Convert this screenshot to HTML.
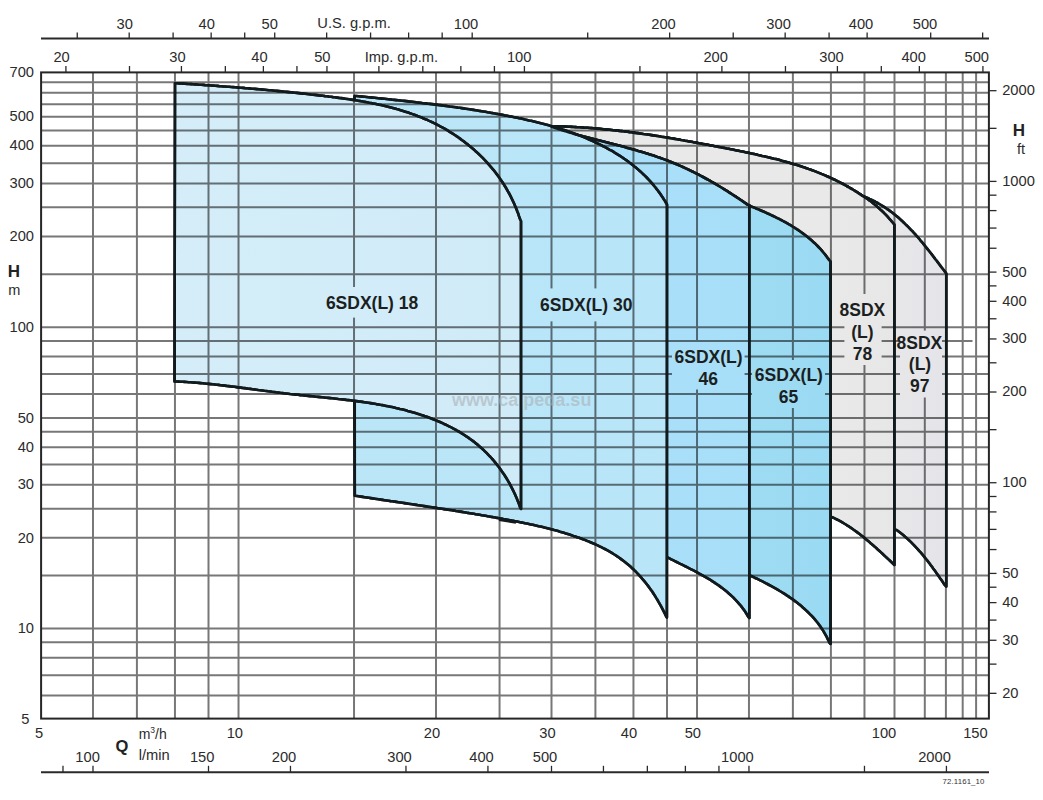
<!DOCTYPE html>
<html><head><meta charset="utf-8"><title>6SDX 8SDX performance chart</title>
<style>html,body{margin:0;padding:0;background:#fff;width:1043px;height:800px;overflow:hidden}svg{display:block;font-family:"Liberation Sans",sans-serif}</style>
</head><body><svg width="1043" height="800" viewBox="0 0 1043 800"><rect width="1043" height="800" fill="#fff"/><defs><linearGradient id="g18" x1="175" x2="521" y1="0" y2="0" gradientUnits="userSpaceOnUse"><stop offset="0" stop-color="#d4edf9"/><stop offset="1" stop-color="#d0ebf8"/></linearGradient><linearGradient id="g30" x1="354" x2="667" y1="0" y2="0" gradientUnits="userSpaceOnUse"><stop offset="0" stop-color="#bbe6f8"/><stop offset="1" stop-color="#b8e5f8"/></linearGradient><linearGradient id="g46" x1="667" x2="749" y1="0" y2="0" gradientUnits="userSpaceOnUse"><stop offset="0" stop-color="#a9dff8"/><stop offset="1" stop-color="#a8dff8"/></linearGradient><linearGradient id="g65" x1="749" x2="831" y1="0" y2="0" gradientUnits="userSpaceOnUse"><stop offset="0" stop-color="#9edcf3"/><stop offset="1" stop-color="#9adaf2"/></linearGradient><linearGradient id="g78" x1="830" x2="895" y1="0" y2="0" gradientUnits="userSpaceOnUse"><stop offset="0" stop-color="#e9e9e9"/><stop offset="1" stop-color="#e7e7e8"/></linearGradient><linearGradient id="g97" x1="895" x2="946" y1="0" y2="0" gradientUnits="userSpaceOnUse"><stop offset="0" stop-color="#e7e7ea"/><stop offset="1" stop-color="#e5e5e9"/></linearGradient><mask id="gm" maskUnits="userSpaceOnUse" x="0" y="0" width="1043" height="800"><rect x="0" y="0" width="1043" height="800" fill="#fff"/><rect x="325.0" y="287.0" width="94.0" height="30.6" fill="#000"/><rect x="540.0" y="288.4" width="92.0" height="33.0" fill="#000"/><rect x="672.0" y="342.0" width="72.6" height="47.5" fill="#000"/><rect x="752.0" y="360.0" width="73.0" height="48.0" fill="#000"/><rect x="844.4" y="294.0" width="37.2" height="71.0" fill="#000"/><rect x="900.0" y="330.6" width="42.0" height="66.9" fill="#000"/></mask></defs><path d="M551.4,126.4L553.4,126.3L555.5,126.3L557.5,126.3L559.5,126.4L561.5,126.5L563.5,126.5L565.5,126.6L567.5,126.7L569.5,126.8L571.5,126.9L573.5,127.0L575.5,127.1L577.5,127.2L579.6,127.3L581.6,127.4L583.6,127.6L585.6,127.7L587.6,127.8L589.6,128.0L591.6,128.1L593.6,128.3L595.6,128.5L597.6,128.6L599.6,128.8L601.6,129.0L603.6,129.2L605.6,129.4L607.5,129.6L609.5,129.8L611.5,130.0L613.5,130.2L615.5,130.4L617.5,130.6L619.5,130.9L621.5,131.1L623.5,131.3L625.5,131.6L627.5,131.8L629.5,132.1L631.5,132.3L633.4,132.6L635.4,132.9L637.4,133.1L639.4,133.4L641.4,133.7L643.4,134.0L645.4,134.2L647.4,134.5L649.3,134.8L651.3,135.1L653.3,135.4L655.3,135.7L657.3,136.0L659.3,136.3L661.3,136.7L663.2,137.0L665.2,137.3L667.2,137.6L669.2,137.9L671.2,138.3L673.2,138.6L675.1,138.9L677.1,139.3L679.1,139.6L681.1,140.0L683.1,140.3L685.0,140.7L687.0,141.0L689.0,141.4L691.0,141.7L693.0,142.1L694.9,142.4L696.9,142.8L698.9,143.2L700.9,143.5L702.9,143.9L704.8,144.3L706.8,144.6L708.8,145.0L710.8,145.4L712.8,145.8L714.7,146.2L716.7,146.5L718.7,146.9L720.7,147.3L722.6,147.7L724.6,148.1L726.6,148.5L728.6,148.8L730.6,149.2L732.5,149.6L734.5,150.0L736.5,150.4L738.5,150.8L740.4,151.2L742.4,151.6L744.4,152.0L746.4,152.4L748.3,152.8L750.3,153.3L752.3,153.7L754.2,154.1L756.2,154.5L758.2,155.0L760.1,155.4L762.1,155.9L764.1,156.3L766.0,156.8L768.0,157.2L769.9,157.7L771.9,158.2L773.8,158.7L775.8,159.1L777.7,159.6L779.6,160.1L781.6,160.7L783.5,161.2L785.4,161.7L787.4,162.3L789.3,162.8L791.2,163.4L793.1,163.9L795.0,164.5L797.0,165.1L798.9,165.7L800.8,166.3L802.7,166.9L804.5,167.6L806.4,168.2L808.3,168.9L810.2,169.6L812.1,170.2L813.9,170.9L815.8,171.6L817.7,172.4L819.5,173.1L821.4,173.9L823.2,174.6L825.0,175.4L826.9,176.2L828.7,177.0L830.5,177.8L832.3,178.7L834.1,179.5L836.0,180.4L837.7,181.3L839.5,182.2L841.3,183.1L843.1,184.0L844.9,185.0L846.6,186.0L848.4,187.0L850.1,188.0L851.9,189.0L853.6,190.0L855.3,191.1L857.1,192.2L858.8,193.3L860.5,194.4L862.2,195.6L863.9,196.5L863.9,196.5L865.7,197.3L867.6,198.0L869.5,198.9L871.3,199.7L873.2,200.6L875.0,201.5L876.7,202.5L878.5,203.5L880.2,204.5L881.9,205.5L883.6,206.6L885.3,207.7L886.9,208.8L888.6,209.9L890.2,211.1L891.8,212.3L893.4,213.5L894.9,214.8L896.5,216.0L898.0,217.3L899.5,218.6L901.0,220.0L902.4,221.3L903.9,222.7L905.3,224.1L906.8,225.5L908.2,226.9L909.6,228.3L911.0,229.8L912.4,231.2L913.7,232.7L915.1,234.2L916.4,235.7L917.8,237.2L919.1,238.7L920.4,240.3L921.7,241.8L923.0,243.4L924.2,244.9L925.5,246.5L926.8,248.1L928.0,249.6L929.3,251.2L930.5,252.8L931.8,254.4L933.0,256.0L934.2,257.6L935.4,259.2L936.7,260.8L937.9,262.4L939.1,264.0L940.3,265.6L941.5,267.2L942.7,268.8L943.9,270.3L945.1,271.9L946.3,273.5L946.3,586.5L944.9,585.1L943.7,583.5L942.6,581.8L941.5,580.1L940.3,578.5L939.1,576.8L938.0,575.1L936.8,573.5L935.6,571.8L934.4,570.1L933.2,568.5L932.0,566.8L930.8,565.2L929.6,563.5L928.3,561.9L927.1,560.3L925.8,558.7L924.5,557.1L923.2,555.5L921.9,553.9L920.6,552.3L919.2,550.8L917.9,549.3L916.5,547.8L915.1,546.3L913.7,544.8L912.2,543.3L910.8,541.9L909.3,540.5L907.8,539.1L906.3,537.7L904.8,536.4L903.2,535.0L901.6,533.7L900.0,532.5L898.3,531.2L896.7,530.0L830.0,505.0L551.4,470.0Z" fill="url(#g97)" stroke="#111a1d" stroke-width="2.6" stroke-linejoin="round"/><path d="M551.4,126.4L553.4,126.3L555.5,126.3L557.5,126.3L559.5,126.4L561.5,126.5L563.5,126.5L565.5,126.6L567.5,126.7L569.5,126.8L571.5,126.9L573.5,127.0L575.5,127.1L577.5,127.2L579.6,127.3L581.6,127.4L583.6,127.6L585.6,127.7L587.6,127.8L589.6,128.0L591.6,128.1L593.6,128.3L595.6,128.5L597.6,128.6L599.6,128.8L601.6,129.0L603.6,129.2L605.6,129.4L607.5,129.6L609.5,129.8L611.5,130.0L613.5,130.2L615.5,130.4L617.5,130.6L619.5,130.9L621.5,131.1L623.5,131.3L625.5,131.6L627.5,131.8L629.5,132.1L631.5,132.3L633.4,132.6L635.4,132.9L637.4,133.1L639.4,133.4L641.4,133.7L643.4,134.0L645.4,134.2L647.4,134.5L649.3,134.8L651.3,135.1L653.3,135.4L655.3,135.7L657.3,136.0L659.3,136.3L661.3,136.7L663.2,137.0L665.2,137.3L667.2,137.6L669.2,137.9L671.2,138.3L673.2,138.6L675.1,138.9L677.1,139.3L679.1,139.6L681.1,140.0L683.1,140.3L685.0,140.7L687.0,141.0L689.0,141.4L691.0,141.7L693.0,142.1L694.9,142.4L696.9,142.8L698.9,143.2L700.9,143.5L702.9,143.9L704.8,144.3L706.8,144.6L708.8,145.0L710.8,145.4L712.8,145.8L714.7,146.2L716.7,146.5L718.7,146.9L720.7,147.3L722.6,147.7L724.6,148.1L726.6,148.5L728.6,148.8L730.6,149.2L732.5,149.6L734.5,150.0L736.5,150.4L738.5,150.8L740.4,151.2L742.4,151.6L744.4,152.0L746.4,152.4L748.3,152.8L750.3,153.3L752.3,153.7L754.2,154.1L756.2,154.5L758.2,155.0L760.1,155.4L762.1,155.9L764.1,156.3L766.0,156.8L768.0,157.2L769.9,157.7L771.9,158.2L773.8,158.7L775.8,159.1L777.7,159.6L779.6,160.1L781.6,160.7L783.5,161.2L785.4,161.7L787.4,162.3L789.3,162.8L791.2,163.4L793.1,163.9L795.0,164.5L797.0,165.1L798.9,165.7L800.8,166.3L802.7,166.9L804.5,167.6L806.4,168.2L808.3,168.9L810.2,169.6L812.1,170.2L813.9,170.9L815.8,171.6L817.7,172.4L819.5,173.1L821.4,173.9L823.2,174.6L825.0,175.4L826.9,176.2L828.7,177.0L830.5,177.8L832.3,178.7L834.1,179.5L836.0,180.4L837.7,181.3L839.5,182.2L841.3,183.1L843.1,184.0L844.9,185.0L846.6,186.0L848.4,187.0L850.1,188.0L851.9,189.0L853.6,190.0L855.3,191.1L857.1,192.2L858.8,193.3L860.5,194.4L862.2,195.6L863.9,196.5L863.9,196.5L865.6,197.7L867.3,198.8L869.0,200.1L870.7,201.3L872.3,202.6L874.0,203.9L875.6,205.2L877.2,206.6L878.7,208.0L880.2,209.4L881.8,210.8L883.3,212.2L884.7,213.7L886.2,215.2L887.6,216.7L889.0,218.3L890.4,219.8L891.7,221.4L893.1,223.0L894.4,224.6L894.4,565.0L892.9,563.6L891.5,562.2L890.0,560.8L888.5,559.4L887.0,558.0L885.5,556.6L884.0,555.2L882.5,553.8L881.0,552.4L879.5,551.0L878.0,549.7L876.5,548.3L875.0,546.9L873.4,545.6L871.9,544.2L870.3,542.9L868.8,541.5L867.2,540.2L865.6,538.9L864.1,537.6L862.5,536.3L860.8,535.1L859.2,533.8L857.6,532.6L856.0,531.4L854.3,530.2L852.6,529.0L851.0,527.9L849.3,526.7L847.5,525.6L845.8,524.5L844.1,523.5L842.3,522.4L840.6,521.4L838.8,520.4L837.0,519.5L835.1,518.6L833.3,517.7L831.4,516.9L750.0,500.0L551.4,478.0Z" fill="url(#g78)" stroke="#111a1d" stroke-width="2.6" stroke-linejoin="round"/><path d="M551.4,126.4L553.3,127.3L555.1,128.0L557.0,128.6L558.9,129.2L560.8,129.8L562.7,130.4L564.6,131.0L566.5,131.6L568.5,132.2L570.4,132.8L572.3,133.3L574.2,133.9L576.1,134.4L578.1,135.0L580.0,135.5L581.9,136.0L583.9,136.6L585.8,137.1L587.7,137.6L589.7,138.1L591.6,138.6L593.6,139.1L595.5,139.6L597.4,140.1L599.4,140.6L601.3,141.1L603.3,141.6L605.2,142.1L607.2,142.6L609.1,143.1L611.1,143.6L613.0,144.1L614.9,144.6L616.9,145.1L618.8,145.6L620.8,146.1L622.7,146.6L624.7,147.1L626.6,147.7L628.5,148.2L630.5,148.7L632.4,149.3L634.3,149.8L636.3,150.3L638.2,150.9L640.1,151.4L642.0,152.0L643.9,152.6L645.9,153.2L647.8,153.8L649.7,154.4L651.6,155.0L653.5,155.6L655.4,156.2L657.3,156.9L659.2,157.5L661.0,158.2L662.9,158.9L664.8,159.6L666.7,160.3L668.5,161.0L670.4,161.7L672.2,162.5L674.1,163.2L675.9,164.0L677.8,164.8L679.6,165.6L681.5,166.4L683.3,167.2L685.1,168.1L686.9,168.9L688.7,169.8L690.5,170.6L692.3,171.5L694.1,172.4L695.9,173.3L697.7,174.2L699.5,175.2L701.3,176.1L703.0,177.0L704.8,178.0L706.6,179.0L708.3,179.9L710.1,180.9L711.8,181.9L713.6,182.9L715.3,183.9L717.0,184.9L718.8,186.0L720.5,187.0L722.2,188.0L723.9,189.1L725.6,190.2L727.3,191.2L729.0,192.3L730.7,193.4L732.4,194.5L734.1,195.6L735.8,196.7L737.5,197.8L739.1,198.9L740.8,200.0L742.5,201.1L744.1,202.3L745.8,203.4L747.4,204.6L749.3,205.3L749.4,205.5L751.2,206.4L753.0,207.1L754.9,207.9L756.7,208.7L758.6,209.4L760.4,210.2L762.2,211.0L764.1,211.8L765.9,212.6L767.7,213.5L769.6,214.3L771.4,215.2L773.2,216.0L775.0,216.9L776.8,217.8L778.6,218.7L780.4,219.6L782.2,220.5L783.9,221.5L785.7,222.4L787.4,223.4L789.1,224.4L790.9,225.4L792.6,226.5L794.3,227.5L795.9,228.6L797.6,229.7L799.3,230.8L800.9,232.0L802.5,233.1L804.1,234.3L805.7,235.5L807.3,236.7L808.8,238.0L810.3,239.3L811.8,240.6L813.3,241.9L814.8,243.2L816.2,244.6L817.6,246.0L819.0,247.5L820.4,248.9L821.7,250.4L823.0,252.0L824.3,253.5L825.6,255.1L826.8,256.7L828.0,258.4L829.2,260.0L830.5,261.5L830.5,644.0L829.3,642.5L828.5,640.6L827.6,638.8L826.7,636.9L825.7,635.1L824.7,633.4L823.7,631.6L822.6,629.9L821.5,628.2L820.4,626.6L819.2,624.9L818.0,623.3L816.8,621.8L815.5,620.2L814.2,618.7L812.9,617.2L811.5,615.7L810.1,614.3L808.7,612.9L807.3,611.5L805.8,610.1L804.3,608.7L802.8,607.4L801.3,606.1L799.8,604.8L798.2,603.6L796.6,602.3L795.0,601.1L793.4,599.9L791.7,598.7L790.0,597.6L788.4,596.4L786.7,595.3L785.0,594.2L783.3,593.1L781.5,592.0L779.8,591.0L778.0,589.9L776.3,588.9L774.5,587.9L772.7,586.9L770.9,585.9L769.2,585.0L767.4,584.0L765.6,583.1L763.8,582.1L762.0,581.2L760.2,580.3L758.4,579.4L756.5,578.5L754.7,577.7L752.9,576.8L751.1,576.0L749.3,575.1L700.0,556.0L667.0,544.0L551.4,508.0Z" fill="url(#g65)" stroke="#111a1d" stroke-width="2.6" stroke-linejoin="round"/><path d="M551.4,126.4L553.3,127.3L555.1,128.0L557.0,128.6L558.9,129.2L560.8,129.8L562.7,130.4L564.6,131.0L566.5,131.6L568.5,132.2L570.4,132.8L572.3,133.3L574.2,133.9L576.1,134.4L578.1,135.0L580.0,135.5L581.9,136.0L583.9,136.6L585.8,137.1L587.7,137.6L589.7,138.1L591.6,138.6L593.6,139.1L595.5,139.6L597.4,140.1L599.4,140.6L601.3,141.1L603.3,141.6L605.2,142.1L607.2,142.6L609.1,143.1L611.1,143.6L613.0,144.1L614.9,144.6L616.9,145.1L618.8,145.6L620.8,146.1L622.7,146.6L624.7,147.1L626.6,147.7L628.5,148.2L630.5,148.7L632.4,149.3L634.3,149.8L636.3,150.3L638.2,150.9L640.1,151.4L642.0,152.0L643.9,152.6L645.9,153.2L647.8,153.8L649.7,154.4L651.6,155.0L653.5,155.6L655.4,156.2L657.3,156.9L659.2,157.5L661.0,158.2L662.9,158.9L664.8,159.6L666.7,160.3L668.5,161.0L670.4,161.7L672.2,162.5L674.1,163.2L675.9,164.0L677.8,164.8L679.6,165.6L681.5,166.4L683.3,167.2L685.1,168.1L686.9,168.9L688.7,169.8L690.5,170.6L692.3,171.5L694.1,172.4L695.9,173.3L697.7,174.2L699.5,175.2L701.3,176.1L703.0,177.0L704.8,178.0L706.6,179.0L708.3,179.9L710.1,180.9L711.8,181.9L713.6,182.9L715.3,183.9L717.0,184.9L718.8,186.0L720.5,187.0L722.2,188.0L723.9,189.1L725.6,190.2L727.3,191.2L729.0,192.3L730.7,193.4L732.4,194.5L734.1,195.6L735.8,196.7L737.5,197.8L739.1,198.9L740.8,200.0L742.5,201.1L744.1,202.3L745.8,203.4L747.4,204.6L749.3,205.3L749.4,618.0L748.1,616.6L747.1,614.8L746.0,613.0L744.9,611.3L743.7,609.6L742.5,608.0L741.3,606.4L740.0,604.8L738.7,603.3L737.4,601.8L736.0,600.3L734.6,598.9L733.2,597.4L731.8,596.1L730.3,594.7L728.8,593.4L727.2,592.0L725.7,590.8L724.1,589.5L722.5,588.3L720.9,587.1L719.3,585.9L717.6,584.7L715.9,583.6L714.2,582.4L712.5,581.3L710.8,580.2L709.1,579.2L707.3,578.1L705.6,577.1L703.8,576.1L702.0,575.1L700.2,574.1L698.4,573.1L696.6,572.1L694.8,571.1L693.0,570.2L691.2,569.3L689.3,568.3L687.5,567.4L685.7,566.5L683.9,565.6L682.1,564.7L680.2,563.8L678.4,562.9L676.6,562.0L674.8,561.1L673.0,560.2L671.2,559.3L669.5,558.4L667.6,557.5L620.0,537.0L551.4,515.0Z" fill="url(#g46)" stroke="#111a1d" stroke-width="2.6" stroke-linejoin="round"/><path d="M354.5,96.0L356.6,96.0L358.6,96.2L360.6,96.4L362.6,96.6L364.6,96.8L366.6,97.0L368.6,97.2L370.6,97.4L372.6,97.6L374.6,97.8L376.5,98.0L378.5,98.2L380.5,98.4L382.5,98.6L384.5,98.8L386.5,99.0L388.5,99.2L390.5,99.4L392.4,99.7L394.4,99.9L396.4,100.1L398.4,100.3L400.4,100.5L402.4,100.7L404.3,100.9L406.3,101.1L408.3,101.4L410.3,101.6L412.3,101.8L414.2,102.0L416.2,102.3L418.2,102.5L420.2,102.7L422.2,103.0L424.1,103.2L426.1,103.4L428.1,103.7L430.1,103.9L432.1,104.1L434.0,104.4L436.0,104.6L438.0,104.9L440.0,105.1L442.0,105.4L443.9,105.7L445.9,105.9L447.9,106.2L449.9,106.5L451.9,106.7L453.8,107.0L455.8,107.3L457.8,107.6L459.8,107.8L461.8,108.1L463.7,108.4L465.7,108.7L467.7,109.0L469.7,109.3L471.6,109.6L473.6,109.9L475.6,110.2L477.6,110.5L479.6,110.9L481.6,111.2L483.5,111.5L485.5,111.8L487.5,112.2L489.5,112.5L491.5,112.9L493.4,113.2L495.4,113.6L497.4,113.9L499.4,114.3L501.4,114.6L503.4,115.0L505.3,115.4L507.3,115.8L509.3,116.2L511.3,116.6L513.3,117.0L515.3,117.4L517.3,117.8L519.2,118.2L521.2,118.6L523.2,119.0L525.2,119.5L527.1,119.9L529.1,120.4L531.1,120.8L533.1,121.3L535.0,121.8L537.0,122.3L538.9,122.8L540.9,123.3L542.9,123.8L544.8,124.3L546.8,124.8L548.7,125.3L550.7,125.9L552.6,126.5L554.5,127.0L556.5,127.6L558.4,128.2L560.3,128.8L562.2,129.4L564.1,130.0L566.0,130.6L567.9,131.3L569.8,131.9L571.7,132.6L573.6,133.3L575.5,134.0L577.4,134.7L579.2,135.4L581.1,136.1L582.9,136.9L584.8,137.6L586.6,138.4L588.5,139.2L590.3,140.0L592.1,140.8L593.9,141.6L595.7,142.5L597.5,143.3L599.3,144.2L601.1,145.1L602.8,146.0L604.6,146.9L606.4,147.8L608.1,148.8L609.8,149.8L611.6,150.7L613.3,151.7L615.0,152.8L616.7,153.8L618.3,154.8L620.0,155.9L621.7,157.0L623.3,158.1L624.9,159.2L626.6,160.4L628.2,161.5L629.7,162.7L631.3,163.9L632.9,165.1L634.4,166.4L635.9,167.6L637.5,168.9L638.9,170.2L640.4,171.5L641.9,172.9L643.3,174.2L644.8,175.6L646.2,177.0L647.6,178.5L648.9,179.9L650.3,181.4L651.6,182.9L652.9,184.4L654.2,186.0L655.5,187.5L656.7,189.1L658.0,190.7L659.2,192.4L660.4,194.0L661.5,195.7L662.7,197.4L663.8,199.2L664.9,200.9L665.9,202.7L667.0,204.5L667.0,206.5L666.9,617.5L665.9,615.8L665.0,614.0L664.1,612.2L663.2,610.4L662.3,608.6L661.4,606.9L660.4,605.1L659.4,603.3L658.4,601.6L657.4,599.8L656.3,598.1L655.3,596.4L654.2,594.7L653.1,593.0L652.0,591.3L650.8,589.7L649.6,588.0L648.4,586.4L647.2,584.8L646.0,583.2L644.7,581.6L643.4,580.1L642.1,578.6L640.8,577.0L639.5,575.6L638.1,574.1L636.7,572.7L635.3,571.2L633.9,569.8L632.4,568.5L631.0,567.1L629.5,565.8L628.0,564.5L626.4,563.2L624.9,562.0L623.3,560.8L621.7,559.6L620.1,558.4L618.5,557.3L616.8,556.1L615.2,555.0L613.5,554.0L611.8,552.9L610.1,551.9L608.4,550.9L606.6,549.9L604.9,549.0L603.1,548.1L601.3,547.2L599.5,546.3L597.7,545.4L595.9,544.6L594.1,543.8L592.2,543.0L590.4,542.2L588.5,541.4L586.7,540.7L584.8,539.9L582.9,539.2L581.0,538.5L579.1,537.8L577.2,537.2L575.3,536.5L573.4,535.9L571.5,535.2L569.6,534.6L567.7,534.0L565.8,533.4L563.9,532.8L561.9,532.2L560.0,531.7L558.1,531.1L556.1,530.6L554.2,530.1L552.3,529.5L550.3,529.0L548.4,528.5L546.4,528.0L544.5,527.6L542.6,527.1L540.6,526.6L538.7,526.2L536.7,525.7L534.8,525.3L532.8,524.8L530.8,524.4L528.9,524.0L526.9,523.6L525.0,523.2L523.0,522.7L521.1,522.4L519.1,522.0L517.1,521.6L515.2,521.2L513.2,520.8L511.2,520.4L509.3,520.1L507.3,519.7L505.3,519.3L503.4,519.0L501.4,518.6L499.4,518.3L497.5,517.9L495.5,517.6L493.5,517.2L491.5,516.9L489.6,516.5L487.6,516.2L485.6,515.8L483.6,515.5L481.7,515.2L479.7,514.8L477.7,514.5L475.7,514.2L473.8,513.8L471.8,513.5L469.8,513.2L467.8,512.9L465.8,512.5L463.9,512.2L461.9,511.9L459.9,511.6L457.9,511.3L455.9,511.0L454.0,510.6L452.0,510.3L450.0,510.0L448.0,509.7L446.0,509.4L444.1,509.1L442.1,508.8L440.1,508.5L438.1,508.2L436.1,507.9L434.1,507.6L432.2,507.3L430.2,507.0L428.2,506.7L426.2,506.4L424.2,506.1L422.2,505.8L420.3,505.5L418.3,505.2L416.3,504.9L414.3,504.6L412.3,504.3L410.3,504.0L408.3,503.7L406.4,503.4L404.4,503.1L402.4,502.8L400.4,502.5L398.4,502.2L396.4,501.9L394.5,501.6L392.5,501.3L390.5,501.1L388.5,500.8L386.5,500.5L384.5,500.2L382.6,499.9L380.6,499.6L378.6,499.3L376.6,499.0L374.6,498.7L372.6,498.4L370.7,498.1L368.7,497.8L366.7,497.5L364.7,497.2L362.7,496.9L360.8,496.6L358.8,496.3L356.8,496.0L354.8,495.8Z" fill="url(#g30)" stroke="#111a1d" stroke-width="2.6" stroke-linejoin="round"/><path d="M175.0,83.3L177.0,83.2L179.1,83.4L181.1,83.5L183.1,83.6L185.1,83.7L187.1,83.9L189.1,84.0L191.1,84.1L193.2,84.3L195.2,84.4L197.2,84.5L199.2,84.7L201.2,84.8L203.2,84.9L205.2,85.1L207.2,85.2L209.2,85.3L211.2,85.5L213.2,85.6L215.2,85.8L217.2,85.9L219.2,86.1L221.2,86.2L223.2,86.4L225.2,86.5L227.2,86.7L229.2,86.8L231.2,87.0L233.1,87.1L235.1,87.3L237.1,87.4L239.1,87.6L241.1,87.7L243.1,87.9L245.1,88.1L247.1,88.2L249.1,88.4L251.1,88.6L253.1,88.7L255.1,88.9L257.1,89.1L259.0,89.3L261.0,89.4L263.0,89.6L265.0,89.8L267.0,90.0L269.0,90.2L271.0,90.3L273.0,90.5L275.0,90.7L277.0,90.9L279.0,91.1L281.0,91.3L283.0,91.5L285.0,91.7L287.0,91.9L289.0,92.1L291.0,92.3L293.0,92.5L294.9,92.7L296.9,92.9L298.9,93.1L301.0,93.4L303.0,93.6L305.0,93.8L307.0,94.0L309.0,94.2L311.0,94.5L313.0,94.7L315.0,94.9L317.0,95.1L319.0,95.4L321.0,95.6L323.0,95.8L325.0,96.1L327.1,96.3L329.1,96.6L331.1,96.8L333.1,97.1L335.1,97.3L337.1,97.6L339.1,97.9L341.2,98.1L343.2,98.4L345.2,98.7L347.2,99.0L349.2,99.3L351.2,99.6L353.2,99.9L355.2,100.2L357.2,100.5L359.2,100.9L361.2,101.2L363.2,101.6L365.2,101.9L367.2,102.3L369.2,102.7L371.2,103.0L373.2,103.4L375.2,103.8L377.1,104.3L379.1,104.7L381.1,105.1L383.0,105.6L385.0,106.0L387.0,106.5L388.9,107.0L390.9,107.5L392.8,108.0L394.7,108.5L396.7,109.1L398.6,109.6L400.5,110.2L402.4,110.8L404.4,111.4L406.3,112.0L408.2,112.6L410.0,113.2L411.9,113.9L413.8,114.6L415.7,115.2L417.5,116.0L419.4,116.7L421.3,117.4L423.1,118.2L424.9,119.0L426.8,119.7L428.6,120.6L430.4,121.4L432.2,122.2L434.0,123.1L435.8,124.0L437.6,124.9L439.3,125.8L441.1,126.8L442.8,127.7L444.6,128.7L446.3,129.7L448.0,130.7L449.7,131.8L451.4,132.8L453.1,133.9L454.8,135.0L456.4,136.1L458.1,137.2L459.7,138.4L461.3,139.6L462.9,140.7L464.5,141.9L466.1,143.2L467.7,144.4L469.2,145.7L470.8,146.9L472.3,148.2L473.8,149.5L475.3,150.9L476.8,152.2L478.2,153.6L479.7,154.9L481.1,156.3L482.5,157.7L483.9,159.2L485.3,160.6L486.7,162.1L488.0,163.6L489.3,165.1L490.6,166.6L491.9,168.1L493.2,169.7L494.5,171.2L495.7,172.8L496.9,174.4L498.1,176.0L499.3,177.6L500.4,179.3L501.6,181.0L502.7,182.6L503.8,184.3L504.8,186.0L505.9,187.8L506.9,189.5L507.9,191.3L508.9,193.0L509.9,194.8L510.8,196.6L511.7,198.5L512.6,200.3L513.5,202.2L514.3,204.0L515.1,205.9L515.9,207.8L516.7,209.7L517.4,211.7L518.2,213.6L518.8,215.6L519.5,217.6L520.2,219.5L521.0,221.0L521.0,509.0L520.1,507.3L519.5,505.4L518.8,503.5L518.0,501.6L517.3,499.7L516.5,497.8L515.7,495.9L514.9,494.1L514.0,492.2L513.1,490.4L512.2,488.6L511.3,486.8L510.3,485.0L509.4,483.2L508.3,481.4L507.3,479.7L506.3,478.0L505.2,476.2L504.1,474.5L503.0,472.9L501.8,471.2L500.6,469.5L499.5,467.9L498.2,466.3L497.0,464.7L495.7,463.1L494.5,461.6L493.2,460.0L491.8,458.5L490.5,457.0L489.1,455.6L487.7,454.1L486.3,452.7L484.9,451.3L483.5,449.9L482.0,448.6L480.5,447.2L479.0,445.9L477.5,444.6L475.9,443.4L474.4,442.1L472.8,440.9L471.2,439.7L469.6,438.6L468.0,437.4L466.3,436.3L464.6,435.2L463.0,434.1L461.3,433.1L459.6,432.0L457.8,431.0L456.1,430.0L454.4,429.1L452.6,428.1L450.8,427.2L449.0,426.3L447.2,425.4L445.4,424.5L443.6,423.7L441.8,422.8L440.0,422.0L438.1,421.2L436.3,420.4L434.4,419.7L432.5,419.0L430.7,418.2L428.8,417.5L426.9,416.8L425.0,416.2L423.1,415.5L421.2,414.9L419.3,414.3L417.4,413.7L415.4,413.1L413.5,412.5L411.6,411.9L409.7,411.4L407.7,410.9L405.8,410.3L403.8,409.8L401.9,409.3L399.9,408.9L398.0,408.4L396.0,408.0L394.1,407.5L392.1,407.1L390.2,406.7L388.2,406.3L386.2,405.9L384.2,405.5L382.3,405.1L380.3,404.8L378.3,404.4L376.3,404.1L374.4,403.7L372.4,403.4L370.4,403.1L368.4,402.8L366.4,402.5L364.4,402.2L362.4,401.9L360.4,401.6L358.4,401.4L356.4,401.1L354.4,400.8L352.4,400.6L350.4,400.3L348.4,400.1L346.4,399.9L344.4,399.6L342.4,399.4L340.4,399.2L338.4,399.0L336.3,398.7L334.3,398.5L332.3,398.3L330.3,398.1L328.3,397.9L326.3,397.7L324.3,397.5L322.3,397.3L320.2,397.1L318.2,396.9L316.2,396.7L314.2,396.5L312.2,396.3L310.2,396.1L308.2,395.9L306.2,395.7L304.2,395.5L302.2,395.3L300.2,395.1L298.2,394.8L296.2,394.6L294.1,394.4L292.1,394.2L290.1,394.0L288.2,393.7L286.2,393.5L284.2,393.3L282.2,393.0L280.2,392.8L278.2,392.5L276.2,392.3L274.2,392.0L272.2,391.8L270.2,391.5L268.2,391.3L266.3,391.0L264.3,390.8L262.3,390.5L260.3,390.2L258.3,390.0L256.3,389.7L254.4,389.4L252.4,389.2L250.4,388.9L248.4,388.7L246.4,388.4L244.4,388.1L242.5,387.9L240.5,387.6L238.5,387.4L236.5,387.1L234.5,386.8L232.5,386.6L230.6,386.4L228.6,386.1L226.6,385.9L224.6,385.6L222.6,385.4L220.6,385.2L218.6,384.9L216.7,384.7L214.7,384.5L212.7,384.3L210.7,384.1L208.7,383.9L206.7,383.7L204.7,383.5L202.7,383.3L200.7,383.1L198.7,382.9L196.7,382.8L194.7,382.6L192.7,382.5L190.6,382.3L188.6,382.2L186.6,382.0L184.6,381.9L182.6,381.8L180.6,381.7L178.5,381.6L176.5,381.5L174.5,381.5Z" fill="url(#g18)" stroke="#111a1d" stroke-width="2.6" stroke-linejoin="round"/><g mask="url(#gm)" opacity="0.53" stroke="#000" stroke-width="2"><line x1="41.1" y1="695.41" x2="988.9" y2="695.41"/><line x1="41.1" y1="675.24" x2="988.9" y2="675.24"/><line x1="41.1" y1="657.76" x2="988.9" y2="657.76"/><line x1="41.1" y1="642.35" x2="988.9" y2="642.35"/><line x1="41.1" y1="628.56" x2="988.9" y2="628.56"/><line x1="41.1" y1="575.50" x2="988.9" y2="575.50"/><line x1="41.1" y1="537.85" x2="988.9" y2="537.85"/><line x1="41.1" y1="508.65" x2="988.9" y2="508.65"/><line x1="41.1" y1="484.79" x2="988.9" y2="484.79"/><line x1="41.1" y1="464.62" x2="988.9" y2="464.62"/><line x1="41.1" y1="447.15" x2="988.9" y2="447.15"/><line x1="41.1" y1="431.73" x2="988.9" y2="431.73"/><line x1="41.1" y1="417.95" x2="988.9" y2="417.95"/><line x1="41.1" y1="394.09" x2="988.9" y2="394.09"/><line x1="41.1" y1="373.92" x2="988.9" y2="373.92"/><line x1="41.1" y1="356.44" x2="988.9" y2="356.44"/><line x1="41.1" y1="341.03" x2="972.5" y2="341.03"/><line x1="41.1" y1="327.24" x2="988.9" y2="327.24"/><line x1="41.1" y1="274.18" x2="988.9" y2="274.18"/><line x1="41.1" y1="236.53" x2="988.9" y2="236.53"/><line x1="41.1" y1="207.33" x2="988.9" y2="207.33"/><line x1="41.1" y1="183.47" x2="988.9" y2="183.47"/><line x1="41.1" y1="163.30" x2="988.9" y2="163.30"/><line x1="41.1" y1="145.83" x2="988.9" y2="145.83"/><line x1="41.1" y1="130.41" x2="988.9" y2="130.41"/><line x1="41.1" y1="116.63" x2="988.9" y2="116.63"/><line x1="41.1" y1="104.15" x2="988.9" y2="104.15"/><line x1="41.1" y1="92.77" x2="988.9" y2="92.77"/><line x1="41.1" y1="82.29" x2="988.9" y2="82.29"/><line x1="92.99" y1="72.4" x2="92.99" y2="718.6"/><line x1="136.91" y1="72.4" x2="136.91" y2="718.6"/><line x1="174.95" y1="72.4" x2="174.95" y2="718.6"/><line x1="208.50" y1="72.4" x2="208.50" y2="718.6"/><line x1="238.52" y1="72.4" x2="238.52" y2="718.6"/><line x1="354.03" y1="72.4" x2="354.03" y2="718.6"/><line x1="435.99" y1="72.4" x2="435.99" y2="718.6"/><line x1="499.56" y1="72.4" x2="499.56" y2="718.6"/><line x1="551.50" y1="72.4" x2="551.50" y2="718.6"/><line x1="595.41" y1="72.4" x2="595.41" y2="718.6"/><line x1="633.45" y1="72.4" x2="633.45" y2="718.6"/><line x1="667.01" y1="72.4" x2="667.01" y2="718.6"/><line x1="697.02" y1="72.4" x2="697.02" y2="718.6"/><line x1="748.96" y1="72.4" x2="748.96" y2="718.6"/><line x1="792.88" y1="72.4" x2="792.88" y2="718.6"/><line x1="830.92" y1="72.4" x2="830.92" y2="718.6"/><line x1="864.47" y1="72.4" x2="864.47" y2="718.6"/><line x1="894.49" y1="72.4" x2="894.49" y2="718.6"/><line x1="924.80" y1="72.4" x2="924.80" y2="718.6"/><line x1="945.90" y1="72.4" x2="945.90" y2="718.6"/><line x1="962.70" y1="72.4" x2="962.70" y2="718.6"/><line x1="976.10" y1="72.4" x2="976.10" y2="718.6"/></g><text x="521.7" y="406" font-family="Liberation Sans, sans-serif" font-size="18" font-weight="bold" text-anchor="middle" fill="#aab1b5" fill-opacity="0.6">www.calpeda.su</text><g fill="none" stroke="#111a1d" stroke-width="2.6" stroke-linejoin="round"><path d="M175.0,83.3L177.0,83.2L179.1,83.4L181.1,83.5L183.1,83.6L185.1,83.7L187.1,83.9L189.1,84.0L191.1,84.1L193.2,84.3L195.2,84.4L197.2,84.5L199.2,84.7L201.2,84.8L203.2,84.9L205.2,85.1L207.2,85.2L209.2,85.3L211.2,85.5L213.2,85.6L215.2,85.8L217.2,85.9L219.2,86.1L221.2,86.2L223.2,86.4L225.2,86.5L227.2,86.7L229.2,86.8L231.2,87.0L233.1,87.1L235.1,87.3L237.1,87.4L239.1,87.6L241.1,87.7L243.1,87.9L245.1,88.1L247.1,88.2L249.1,88.4L251.1,88.6L253.1,88.7L255.1,88.9L257.1,89.1L259.0,89.3L261.0,89.4L263.0,89.6L265.0,89.8L267.0,90.0L269.0,90.2L271.0,90.3L273.0,90.5L275.0,90.7L277.0,90.9L279.0,91.1L281.0,91.3L283.0,91.5L285.0,91.7L287.0,91.9L289.0,92.1L291.0,92.3L293.0,92.5L294.9,92.7L296.9,92.9L298.9,93.1L301.0,93.4L303.0,93.6L305.0,93.8L307.0,94.0L309.0,94.2L311.0,94.5L313.0,94.7L315.0,94.9L317.0,95.1L319.0,95.4L321.0,95.6L323.0,95.8L325.0,96.1L327.1,96.3L329.1,96.6L331.1,96.8L333.1,97.1L335.1,97.3L337.1,97.6L339.1,97.9L341.2,98.1L343.2,98.4L345.2,98.7L347.2,99.0L349.2,99.3L351.2,99.6L353.2,99.9L355.2,100.2L357.2,100.5L359.2,100.9L361.2,101.2L363.2,101.6L365.2,101.9L367.2,102.3L369.2,102.7L371.2,103.0L373.2,103.4L375.2,103.8L377.1,104.3L379.1,104.7L381.1,105.1L383.0,105.6L385.0,106.0L387.0,106.5L388.9,107.0L390.9,107.5L392.8,108.0L394.7,108.5L396.7,109.1L398.6,109.6L400.5,110.2L402.4,110.8L404.4,111.4L406.3,112.0L408.2,112.6L410.0,113.2L411.9,113.9L413.8,114.6L415.7,115.2L417.5,116.0L419.4,116.7L421.3,117.4L423.1,118.2L424.9,119.0L426.8,119.7L428.6,120.6L430.4,121.4L432.2,122.2L434.0,123.1L435.8,124.0L437.6,124.9L439.3,125.8L441.1,126.8L442.8,127.7L444.6,128.7L446.3,129.7L448.0,130.7L449.7,131.8L451.4,132.8L453.1,133.9L454.8,135.0L456.4,136.1L458.1,137.2L459.7,138.4L461.3,139.6L462.9,140.7L464.5,141.9L466.1,143.2L467.7,144.4L469.2,145.7L470.8,146.9L472.3,148.2L473.8,149.5L475.3,150.9L476.8,152.2L478.2,153.6L479.7,154.9L481.1,156.3L482.5,157.7L483.9,159.2L485.3,160.6L486.7,162.1L488.0,163.6L489.3,165.1L490.6,166.6L491.9,168.1L493.2,169.7L494.5,171.2L495.7,172.8L496.9,174.4L498.1,176.0L499.3,177.6L500.4,179.3L501.6,181.0L502.7,182.6L503.8,184.3L504.8,186.0L505.9,187.8L506.9,189.5L507.9,191.3L508.9,193.0L509.9,194.8L510.8,196.6L511.7,198.5L512.6,200.3L513.5,202.2L514.3,204.0L515.1,205.9L515.9,207.8L516.7,209.7L517.4,211.7L518.2,213.6L518.8,215.6L519.5,217.6L520.2,219.5L521.0,221.0L521.0,509.0L520.1,507.3L519.5,505.4L518.8,503.5L518.0,501.6L517.3,499.7L516.5,497.8L515.7,495.9L514.9,494.1L514.0,492.2L513.1,490.4L512.2,488.6L511.3,486.8L510.3,485.0L509.4,483.2L508.3,481.4L507.3,479.7L506.3,478.0L505.2,476.2L504.1,474.5L503.0,472.9L501.8,471.2L500.6,469.5L499.5,467.9L498.2,466.3L497.0,464.7L495.7,463.1L494.5,461.6L493.2,460.0L491.8,458.5L490.5,457.0L489.1,455.6L487.7,454.1L486.3,452.7L484.9,451.3L483.5,449.9L482.0,448.6L480.5,447.2L479.0,445.9L477.5,444.6L475.9,443.4L474.4,442.1L472.8,440.9L471.2,439.7L469.6,438.6L468.0,437.4L466.3,436.3L464.6,435.2L463.0,434.1L461.3,433.1L459.6,432.0L457.8,431.0L456.1,430.0L454.4,429.1L452.6,428.1L450.8,427.2L449.0,426.3L447.2,425.4L445.4,424.5L443.6,423.7L441.8,422.8L440.0,422.0L438.1,421.2L436.3,420.4L434.4,419.7L432.5,419.0L430.7,418.2L428.8,417.5L426.9,416.8L425.0,416.2L423.1,415.5L421.2,414.9L419.3,414.3L417.4,413.7L415.4,413.1L413.5,412.5L411.6,411.9L409.7,411.4L407.7,410.9L405.8,410.3L403.8,409.8L401.9,409.3L399.9,408.9L398.0,408.4L396.0,408.0L394.1,407.5L392.1,407.1L390.2,406.7L388.2,406.3L386.2,405.9L384.2,405.5L382.3,405.1L380.3,404.8L378.3,404.4L376.3,404.1L374.4,403.7L372.4,403.4L370.4,403.1L368.4,402.8L366.4,402.5L364.4,402.2L362.4,401.9L360.4,401.6L358.4,401.4L356.4,401.1L354.4,400.8L352.4,400.6L350.4,400.3L348.4,400.1L346.4,399.9L344.4,399.6L342.4,399.4L340.4,399.2L338.4,399.0L336.3,398.7L334.3,398.5L332.3,398.3L330.3,398.1L328.3,397.9L326.3,397.7L324.3,397.5L322.3,397.3L320.2,397.1L318.2,396.9L316.2,396.7L314.2,396.5L312.2,396.3L310.2,396.1L308.2,395.9L306.2,395.7L304.2,395.5L302.2,395.3L300.2,395.1L298.2,394.8L296.2,394.6L294.1,394.4L292.1,394.2L290.1,394.0L288.2,393.7L286.2,393.5L284.2,393.3L282.2,393.0L280.2,392.8L278.2,392.5L276.2,392.3L274.2,392.0L272.2,391.8L270.2,391.5L268.2,391.3L266.3,391.0L264.3,390.8L262.3,390.5L260.3,390.2L258.3,390.0L256.3,389.7L254.4,389.4L252.4,389.2L250.4,388.9L248.4,388.7L246.4,388.4L244.4,388.1L242.5,387.9L240.5,387.6L238.5,387.4L236.5,387.1L234.5,386.8L232.5,386.6L230.6,386.4L228.6,386.1L226.6,385.9L224.6,385.6L222.6,385.4L220.6,385.2L218.6,384.9L216.7,384.7L214.7,384.5L212.7,384.3L210.7,384.1L208.7,383.9L206.7,383.7L204.7,383.5L202.7,383.3L200.7,383.1L198.7,382.9L196.7,382.8L194.7,382.6L192.7,382.5L190.6,382.3L188.6,382.2L186.6,382.0L184.6,381.9L182.6,381.8L180.6,381.7L178.5,381.6L176.5,381.5L174.5,381.5Z"/><path d="M354.5,96.0L356.6,96.0L358.6,96.2L360.6,96.4L362.6,96.6L364.6,96.8L366.6,97.0L368.6,97.2L370.6,97.4L372.6,97.6L374.6,97.8L376.5,98.0L378.5,98.2L380.5,98.4L382.5,98.6L384.5,98.8L386.5,99.0L388.5,99.2L390.5,99.4L392.4,99.7L394.4,99.9L396.4,100.1L398.4,100.3L400.4,100.5L402.4,100.7L404.3,100.9L406.3,101.1L408.3,101.4L410.3,101.6L412.3,101.8L414.2,102.0L416.2,102.3L418.2,102.5L420.2,102.7L422.2,103.0L424.1,103.2L426.1,103.4L428.1,103.7L430.1,103.9L432.1,104.1L434.0,104.4L436.0,104.6L438.0,104.9L440.0,105.1L442.0,105.4L443.9,105.7L445.9,105.9L447.9,106.2L449.9,106.5L451.9,106.7L453.8,107.0L455.8,107.3L457.8,107.6L459.8,107.8L461.8,108.1L463.7,108.4L465.7,108.7L467.7,109.0L469.7,109.3L471.6,109.6L473.6,109.9L475.6,110.2L477.6,110.5L479.6,110.9L481.6,111.2L483.5,111.5L485.5,111.8L487.5,112.2L489.5,112.5L491.5,112.9L493.4,113.2L495.4,113.6L497.4,113.9L499.4,114.3L501.4,114.6L503.4,115.0L505.3,115.4L507.3,115.8L509.3,116.2L511.3,116.6L513.3,117.0L515.3,117.4L517.3,117.8L519.2,118.2L521.2,118.6L523.2,119.0L525.2,119.5L527.1,119.9L529.1,120.4L531.1,120.8L533.1,121.3L535.0,121.8L537.0,122.3L538.9,122.8L540.9,123.3L542.9,123.8L544.8,124.3L546.8,124.8L548.7,125.3L550.7,125.9L552.6,126.5L554.5,127.0L556.5,127.6L558.4,128.2L560.3,128.8L562.2,129.4L564.1,130.0L566.0,130.6L567.9,131.3L569.8,131.9L571.7,132.6L573.6,133.3L575.5,134.0L577.4,134.7L579.2,135.4L581.1,136.1L582.9,136.9L584.8,137.6L586.6,138.4L588.5,139.2L590.3,140.0L592.1,140.8L593.9,141.6L595.7,142.5L597.5,143.3L599.3,144.2L601.1,145.1L602.8,146.0L604.6,146.9L606.4,147.8L608.1,148.8L609.8,149.8L611.6,150.7L613.3,151.7L615.0,152.8L616.7,153.8L618.3,154.8L620.0,155.9L621.7,157.0L623.3,158.1L624.9,159.2L626.6,160.4L628.2,161.5L629.7,162.7L631.3,163.9L632.9,165.1L634.4,166.4L635.9,167.6L637.5,168.9L638.9,170.2L640.4,171.5L641.9,172.9L643.3,174.2L644.8,175.6L646.2,177.0L647.6,178.5L648.9,179.9L650.3,181.4L651.6,182.9L652.9,184.4L654.2,186.0L655.5,187.5L656.7,189.1L658.0,190.7L659.2,192.4L660.4,194.0L661.5,195.7L662.7,197.4L663.8,199.2L664.9,200.9L665.9,202.7L667.0,204.5L667.0,206.5L666.9,617.5L665.9,615.8L665.0,614.0L664.1,612.2L663.2,610.4L662.3,608.6L661.4,606.9L660.4,605.1L659.4,603.3L658.4,601.6L657.4,599.8L656.3,598.1L655.3,596.4L654.2,594.7L653.1,593.0L652.0,591.3L650.8,589.7L649.6,588.0L648.4,586.4L647.2,584.8L646.0,583.2L644.7,581.6L643.4,580.1L642.1,578.6L640.8,577.0L639.5,575.6L638.1,574.1L636.7,572.7L635.3,571.2L633.9,569.8L632.4,568.5L631.0,567.1L629.5,565.8L628.0,564.5L626.4,563.2L624.9,562.0L623.3,560.8L621.7,559.6L620.1,558.4L618.5,557.3L616.8,556.1L615.2,555.0L613.5,554.0L611.8,552.9L610.1,551.9L608.4,550.9L606.6,549.9L604.9,549.0L603.1,548.1L601.3,547.2L599.5,546.3L597.7,545.4L595.9,544.6L594.1,543.8L592.2,543.0L590.4,542.2L588.5,541.4L586.7,540.7L584.8,539.9L582.9,539.2L581.0,538.5L579.1,537.8L577.2,537.2L575.3,536.5L573.4,535.9L571.5,535.2L569.6,534.6L567.7,534.0L565.8,533.4L563.9,532.8L561.9,532.2L560.0,531.7L558.1,531.1L556.1,530.6L554.2,530.1L552.3,529.5L550.3,529.0L548.4,528.5L546.4,528.0L544.5,527.6L542.6,527.1L540.6,526.6L538.7,526.2L536.7,525.7L534.8,525.3L532.8,524.8L530.8,524.4L528.9,524.0L526.9,523.6L525.0,523.2L523.0,522.7L521.1,522.4L519.1,522.0L517.1,521.6L515.2,521.2L513.2,520.8L511.2,520.4L509.3,520.1L507.3,519.7L505.3,519.3L503.4,519.0L501.4,518.6L499.4,518.3L497.5,517.9L495.5,517.6L493.5,517.2L491.5,516.9L489.6,516.5L487.6,516.2L485.6,515.8L483.6,515.5L481.7,515.2L479.7,514.8L477.7,514.5L475.7,514.2L473.8,513.8L471.8,513.5L469.8,513.2L467.8,512.9L465.8,512.5L463.9,512.2L461.9,511.9L459.9,511.6L457.9,511.3L455.9,511.0L454.0,510.6L452.0,510.3L450.0,510.0L448.0,509.7L446.0,509.4L444.1,509.1L442.1,508.8L440.1,508.5L438.1,508.2L436.1,507.9L434.1,507.6L432.2,507.3L430.2,507.0L428.2,506.7L426.2,506.4L424.2,506.1L422.2,505.8L420.3,505.5L418.3,505.2L416.3,504.9L414.3,504.6L412.3,504.3L410.3,504.0L408.3,503.7L406.4,503.4L404.4,503.1L402.4,502.8L400.4,502.5L398.4,502.2L396.4,501.9L394.5,501.6L392.5,501.3L390.5,501.1L388.5,500.8L386.5,500.5L384.5,500.2L382.6,499.9L380.6,499.6L378.6,499.3L376.6,499.0L374.6,498.7L372.6,498.4L370.7,498.1L368.7,497.8L366.7,497.5L364.7,497.2L362.7,496.9L360.8,496.6L358.8,496.3L356.8,496.0L354.8,495.8L354.3,401.0"/><path d="M354.5,96L354.5,100.8"/><path d="M551.4,126.4L553.3,127.3L555.1,128.0L557.0,128.6L558.9,129.2L560.8,129.8L562.7,130.4L564.6,131.0L566.5,131.6L568.5,132.2L570.4,132.8L572.3,133.3L574.2,133.9L576.1,134.4L578.1,135.0L580.0,135.5L581.9,136.0L583.9,136.6L585.8,137.1L587.7,137.6L589.7,138.1L591.6,138.6L593.6,139.1L595.5,139.6L597.4,140.1L599.4,140.6L601.3,141.1L603.3,141.6L605.2,142.1L607.2,142.6L609.1,143.1L611.1,143.6L613.0,144.1L614.9,144.6L616.9,145.1L618.8,145.6L620.8,146.1L622.7,146.6L624.7,147.1L626.6,147.7L628.5,148.2L630.5,148.7L632.4,149.3L634.3,149.8L636.3,150.3L638.2,150.9L640.1,151.4L642.0,152.0L643.9,152.6L645.9,153.2L647.8,153.8L649.7,154.4L651.6,155.0L653.5,155.6L655.4,156.2L657.3,156.9L659.2,157.5L661.0,158.2L662.9,158.9L664.8,159.6L666.7,160.3L668.5,161.0L670.4,161.7L672.2,162.5L674.1,163.2L675.9,164.0L677.8,164.8L679.6,165.6L681.5,166.4L683.3,167.2L685.1,168.1L686.9,168.9L688.7,169.8L690.5,170.6L692.3,171.5L694.1,172.4L695.9,173.3L697.7,174.2L699.5,175.2L701.3,176.1L703.0,177.0L704.8,178.0L706.6,179.0L708.3,179.9L710.1,180.9L711.8,181.9L713.6,182.9L715.3,183.9L717.0,184.9L718.8,186.0L720.5,187.0L722.2,188.0L723.9,189.1L725.6,190.2L727.3,191.2L729.0,192.3L730.7,193.4L732.4,194.5L734.1,195.6L735.8,196.7L737.5,197.8L739.1,198.9L740.8,200.0L742.5,201.1L744.1,202.3L745.8,203.4L747.4,204.6L749.3,205.3L749.4,205.5L751.2,206.4L753.0,207.1L754.9,207.9L756.7,208.7L758.6,209.4L760.4,210.2L762.2,211.0L764.1,211.8L765.9,212.6L767.7,213.5L769.6,214.3L771.4,215.2L773.2,216.0L775.0,216.9L776.8,217.8L778.6,218.7L780.4,219.6L782.2,220.5L783.9,221.5L785.7,222.4L787.4,223.4L789.1,224.4L790.9,225.4L792.6,226.5L794.3,227.5L795.9,228.6L797.6,229.7L799.3,230.8L800.9,232.0L802.5,233.1L804.1,234.3L805.7,235.5L807.3,236.7L808.8,238.0L810.3,239.3L811.8,240.6L813.3,241.9L814.8,243.2L816.2,244.6L817.6,246.0L819.0,247.5L820.4,248.9L821.7,250.4L823.0,252.0L824.3,253.5L825.6,255.1L826.8,256.7L828.0,258.4L829.2,260.0L830.5,261.5L830.5,644.0L829.3,642.5L828.5,640.6L827.6,638.8L826.7,636.9L825.7,635.1L824.7,633.4L823.7,631.6L822.6,629.9L821.5,628.2L820.4,626.6L819.2,624.9L818.0,623.3L816.8,621.8L815.5,620.2L814.2,618.7L812.9,617.2L811.5,615.7L810.1,614.3L808.7,612.9L807.3,611.5L805.8,610.1L804.3,608.7L802.8,607.4L801.3,606.1L799.8,604.8L798.2,603.6L796.6,602.3L795.0,601.1L793.4,599.9L791.7,598.7L790.0,597.6L788.4,596.4L786.7,595.3L785.0,594.2L783.3,593.1L781.5,592.0L779.8,591.0L778.0,589.9L776.3,588.9L774.5,587.9L772.7,586.9L770.9,585.9L769.2,585.0L767.4,584.0L765.6,583.1L763.8,582.1L762.0,581.2L760.2,580.3L758.4,579.4L756.5,578.5L754.7,577.7L752.9,576.8L751.1,576.0L749.3,575.1"/><path d="M749.3,205.3L749.4,618.0L748.1,616.6L747.1,614.8L746.0,613.0L744.9,611.3L743.7,609.6L742.5,608.0L741.3,606.4L740.0,604.8L738.7,603.3L737.4,601.8L736.0,600.3L734.6,598.9L733.2,597.4L731.8,596.1L730.3,594.7L728.8,593.4L727.2,592.0L725.7,590.8L724.1,589.5L722.5,588.3L720.9,587.1L719.3,585.9L717.6,584.7L715.9,583.6L714.2,582.4L712.5,581.3L710.8,580.2L709.1,579.2L707.3,578.1L705.6,577.1L703.8,576.1L702.0,575.1L700.2,574.1L698.4,573.1L696.6,572.1L694.8,571.1L693.0,570.2L691.2,569.3L689.3,568.3L687.5,567.4L685.7,566.5L683.9,565.6L682.1,564.7L680.2,563.8L678.4,562.9L676.6,562.0L674.8,561.1L673.0,560.2L671.2,559.3L669.5,558.4L667.6,557.5"/><path d="M551.4,126.4L553.4,126.3L555.5,126.3L557.5,126.3L559.5,126.4L561.5,126.5L563.5,126.5L565.5,126.6L567.5,126.7L569.5,126.8L571.5,126.9L573.5,127.0L575.5,127.1L577.5,127.2L579.6,127.3L581.6,127.4L583.6,127.6L585.6,127.7L587.6,127.8L589.6,128.0L591.6,128.1L593.6,128.3L595.6,128.5L597.6,128.6L599.6,128.8L601.6,129.0L603.6,129.2L605.6,129.4L607.5,129.6L609.5,129.8L611.5,130.0L613.5,130.2L615.5,130.4L617.5,130.6L619.5,130.9L621.5,131.1L623.5,131.3L625.5,131.6L627.5,131.8L629.5,132.1L631.5,132.3L633.4,132.6L635.4,132.9L637.4,133.1L639.4,133.4L641.4,133.7L643.4,134.0L645.4,134.2L647.4,134.5L649.3,134.8L651.3,135.1L653.3,135.4L655.3,135.7L657.3,136.0L659.3,136.3L661.3,136.7L663.2,137.0L665.2,137.3L667.2,137.6L669.2,137.9L671.2,138.3L673.2,138.6L675.1,138.9L677.1,139.3L679.1,139.6L681.1,140.0L683.1,140.3L685.0,140.7L687.0,141.0L689.0,141.4L691.0,141.7L693.0,142.1L694.9,142.4L696.9,142.8L698.9,143.2L700.9,143.5L702.9,143.9L704.8,144.3L706.8,144.6L708.8,145.0L710.8,145.4L712.8,145.8L714.7,146.2L716.7,146.5L718.7,146.9L720.7,147.3L722.6,147.7L724.6,148.1L726.6,148.5L728.6,148.8L730.6,149.2L732.5,149.6L734.5,150.0L736.5,150.4L738.5,150.8L740.4,151.2L742.4,151.6L744.4,152.0L746.4,152.4L748.3,152.8L750.3,153.3L752.3,153.7L754.2,154.1L756.2,154.5L758.2,155.0L760.1,155.4L762.1,155.9L764.1,156.3L766.0,156.8L768.0,157.2L769.9,157.7L771.9,158.2L773.8,158.7L775.8,159.1L777.7,159.6L779.6,160.1L781.6,160.7L783.5,161.2L785.4,161.7L787.4,162.3L789.3,162.8L791.2,163.4L793.1,163.9L795.0,164.5L797.0,165.1L798.9,165.7L800.8,166.3L802.7,166.9L804.5,167.6L806.4,168.2L808.3,168.9L810.2,169.6L812.1,170.2L813.9,170.9L815.8,171.6L817.7,172.4L819.5,173.1L821.4,173.9L823.2,174.6L825.0,175.4L826.9,176.2L828.7,177.0L830.5,177.8L832.3,178.7L834.1,179.5L836.0,180.4L837.7,181.3L839.5,182.2L841.3,183.1L843.1,184.0L844.9,185.0L846.6,186.0L848.4,187.0L850.1,188.0L851.9,189.0L853.6,190.0L855.3,191.1L857.1,192.2L858.8,193.3L860.5,194.4L862.2,195.6L863.9,196.5L863.9,196.5L865.7,197.3L867.6,198.0L869.5,198.9L871.3,199.7L873.2,200.6L875.0,201.5L876.7,202.5L878.5,203.5L880.2,204.5L881.9,205.5L883.6,206.6L885.3,207.7L886.9,208.8L888.6,209.9L890.2,211.1L891.8,212.3L893.4,213.5L894.9,214.8L896.5,216.0L898.0,217.3L899.5,218.6L901.0,220.0L902.4,221.3L903.9,222.7L905.3,224.1L906.8,225.5L908.2,226.9L909.6,228.3L911.0,229.8L912.4,231.2L913.7,232.7L915.1,234.2L916.4,235.7L917.8,237.2L919.1,238.7L920.4,240.3L921.7,241.8L923.0,243.4L924.2,244.9L925.5,246.5L926.8,248.1L928.0,249.6L929.3,251.2L930.5,252.8L931.8,254.4L933.0,256.0L934.2,257.6L935.4,259.2L936.7,260.8L937.9,262.4L939.1,264.0L940.3,265.6L941.5,267.2L942.7,268.8L943.9,270.3L945.1,271.9L946.3,273.5L946.3,586.5L944.9,585.1L943.7,583.5L942.6,581.8L941.5,580.1L940.3,578.5L939.1,576.8L938.0,575.1L936.8,573.5L935.6,571.8L934.4,570.1L933.2,568.5L932.0,566.8L930.8,565.2L929.6,563.5L928.3,561.9L927.1,560.3L925.8,558.7L924.5,557.1L923.2,555.5L921.9,553.9L920.6,552.3L919.2,550.8L917.9,549.3L916.5,547.8L915.1,546.3L913.7,544.8L912.2,543.3L910.8,541.9L909.3,540.5L907.8,539.1L906.3,537.7L904.8,536.4L903.2,535.0L901.6,533.7L900.0,532.5L898.3,531.2L896.7,530.0"/><path d="M863.9,196.5L865.6,197.7L867.3,198.8L869.0,200.1L870.7,201.3L872.3,202.6L874.0,203.9L875.6,205.2L877.2,206.6L878.7,208.0L880.2,209.4L881.8,210.8L883.3,212.2L884.7,213.7L886.2,215.2L887.6,216.7L889.0,218.3L890.4,219.8L891.7,221.4L893.1,223.0L894.4,224.6L894.4,565.0L892.9,563.6L891.5,562.2L890.0,560.8L888.5,559.4L887.0,558.0L885.5,556.6L884.0,555.2L882.5,553.8L881.0,552.4L879.5,551.0L878.0,549.7L876.5,548.3L875.0,546.9L873.4,545.6L871.9,544.2L870.3,542.9L868.8,541.5L867.2,540.2L865.6,538.9L864.1,537.6L862.5,536.3L860.8,535.1L859.2,533.8L857.6,532.6L856.0,531.4L854.3,530.2L852.6,529.0L851.0,527.9L849.3,526.7L847.5,525.6L845.8,524.5L844.1,523.5L842.3,522.4L840.6,521.4L838.8,520.4L837.0,519.5L835.1,518.6L833.3,517.7L831.4,516.9"/><path d="M499,519.6L516,522.4"/></g><rect x="41.1" y="72.4" width="947.8" height="646.2" fill="none" stroke="#262626" stroke-width="2"/><g stroke="#2a2a2a" stroke-width="1.3"><line x1="41" y1="38.6" x2="989" y2="38.6" stroke-width="2"/><line x1="77.25" y1="32.5" x2="77.25" y2="38.6"/><line x1="129.19" y1="32.5" x2="129.19" y2="38.6"/><line x1="173.11" y1="32.5" x2="173.11" y2="38.6"/><line x1="211.15" y1="32.5" x2="211.15" y2="38.6"/><line x1="244.71" y1="32.5" x2="244.71" y2="38.6"/><line x1="274.72" y1="32.5" x2="274.72" y2="38.6"/><line x1="326.66" y1="32.5" x2="326.66" y2="38.6"/><line x1="370.58" y1="32.5" x2="370.58" y2="38.6"/><line x1="408.62" y1="32.5" x2="408.62" y2="38.6"/><line x1="442.17" y1="32.5" x2="442.17" y2="38.6"/><line x1="472.19" y1="32.5" x2="472.19" y2="38.6"/><line x1="587.70" y1="32.5" x2="587.70" y2="38.6"/><line x1="669.65" y1="32.5" x2="669.65" y2="38.6"/><line x1="733.22" y1="32.5" x2="733.22" y2="38.6"/><line x1="785.16" y1="32.5" x2="785.16" y2="38.6"/><line x1="829.08" y1="32.5" x2="829.08" y2="38.6"/><line x1="867.12" y1="32.5" x2="867.12" y2="38.6"/><line x1="930.69" y1="32.5" x2="930.69" y2="38.6"/><line x1="982.63" y1="32.5" x2="982.63" y2="38.6"/><line x1="65.92" y1="66" x2="65.92" y2="72.4"/><line x1="129.49" y1="66" x2="129.49" y2="72.4"/><line x1="181.43" y1="66" x2="181.43" y2="72.4"/><line x1="225.34" y1="66" x2="225.34" y2="72.4"/><line x1="263.38" y1="66" x2="263.38" y2="72.4"/><line x1="296.94" y1="66" x2="296.94" y2="72.4"/><line x1="326.95" y1="66" x2="326.95" y2="72.4"/><line x1="378.89" y1="66" x2="378.89" y2="72.4"/><line x1="422.81" y1="66" x2="422.81" y2="72.4"/><line x1="460.85" y1="66" x2="460.85" y2="72.4"/><line x1="494.41" y1="66" x2="494.41" y2="72.4"/><line x1="524.42" y1="66" x2="524.42" y2="72.4"/><line x1="639.93" y1="66" x2="639.93" y2="72.4"/><line x1="721.89" y1="66" x2="721.89" y2="72.4"/><line x1="785.46" y1="66" x2="785.46" y2="72.4"/><line x1="837.40" y1="66" x2="837.40" y2="72.4"/><line x1="881.31" y1="66" x2="881.31" y2="72.4"/><line x1="919.35" y1="66" x2="919.35" y2="72.4"/><line x1="982.92" y1="66" x2="982.92" y2="72.4"/><line x1="41" y1="772.2" x2="989" y2="772.2" stroke-width="2"/><line x1="62.98" y1="765.8" x2="62.98" y2="772.2"/><line x1="92.99" y1="765.8" x2="92.99" y2="772.2"/><line x1="208.50" y1="765.8" x2="208.50" y2="772.2"/><line x1="290.46" y1="765.8" x2="290.46" y2="772.2"/><line x1="405.97" y1="765.8" x2="405.97" y2="772.2"/><line x1="487.93" y1="765.8" x2="487.93" y2="772.2"/><line x1="551.50" y1="765.8" x2="551.50" y2="772.2"/><line x1="603.44" y1="765.8" x2="603.44" y2="772.2"/><line x1="647.35" y1="765.8" x2="647.35" y2="772.2"/><line x1="685.39" y1="765.8" x2="685.39" y2="772.2"/><line x1="718.95" y1="765.8" x2="718.95" y2="772.2"/><line x1="748.96" y1="765.8" x2="748.96" y2="772.2"/><line x1="864.47" y1="765.8" x2="864.47" y2="772.2"/><line x1="946.43" y1="765.8" x2="946.43" y2="772.2"/><line x1="989" y1="693.33" x2="996.5" y2="693.33"/><line x1="989" y1="664.13" x2="996.5" y2="664.13"/><line x1="989" y1="640.27" x2="996.5" y2="640.27"/><line x1="989" y1="620.10" x2="996.5" y2="620.10"/><line x1="989" y1="602.62" x2="996.5" y2="602.62"/><line x1="989" y1="587.21" x2="996.5" y2="587.21"/><line x1="989" y1="573.42" x2="996.5" y2="573.42"/><line x1="989" y1="549.56" x2="996.5" y2="549.56"/><line x1="989" y1="529.39" x2="996.5" y2="529.39"/><line x1="989" y1="511.92" x2="996.5" y2="511.92"/><line x1="989" y1="496.50" x2="996.5" y2="496.50"/><line x1="989" y1="482.72" x2="996.5" y2="482.72"/><line x1="989" y1="429.66" x2="996.5" y2="429.66"/><line x1="989" y1="392.01" x2="996.5" y2="392.01"/><line x1="989" y1="362.81" x2="996.5" y2="362.81"/><line x1="989" y1="338.95" x2="996.5" y2="338.95"/><line x1="989" y1="318.78" x2="996.5" y2="318.78"/><line x1="989" y1="301.30" x2="996.5" y2="301.30"/><line x1="989" y1="285.89" x2="996.5" y2="285.89"/><line x1="989" y1="272.10" x2="996.5" y2="272.10"/><line x1="989" y1="248.24" x2="996.5" y2="248.24"/><line x1="989" y1="228.07" x2="996.5" y2="228.07"/><line x1="989" y1="210.60" x2="996.5" y2="210.60"/><line x1="989" y1="195.18" x2="996.5" y2="195.18"/><line x1="989" y1="181.40" x2="996.5" y2="181.40"/><line x1="989" y1="128.34" x2="996.5" y2="128.34"/><line x1="989" y1="90.69" x2="996.5" y2="90.69"/></g><g font-family="Liberation Sans, sans-serif"><text x="34.0" y="77.2" font-size="14.7" text-anchor="end" font-weight="normal" fill="#2b2b2b">700</text><text x="34.0" y="121.2" font-size="14.7" text-anchor="end" font-weight="normal" fill="#2b2b2b">500</text><text x="34.0" y="150.4" font-size="14.7" text-anchor="end" font-weight="normal" fill="#2b2b2b">400</text><text x="34.0" y="188.1" font-size="14.7" text-anchor="end" font-weight="normal" fill="#2b2b2b">300</text><text x="34.0" y="241.1" font-size="14.7" text-anchor="end" font-weight="normal" fill="#2b2b2b">200</text><text x="34.0" y="331.8" font-size="14.7" text-anchor="end" font-weight="normal" fill="#2b2b2b">100</text><text x="34.0" y="422.5" font-size="14.7" text-anchor="end" font-weight="normal" fill="#2b2b2b">50</text><text x="34.0" y="451.7" font-size="14.7" text-anchor="end" font-weight="normal" fill="#2b2b2b">40</text><text x="34.0" y="489.4" font-size="14.7" text-anchor="end" font-weight="normal" fill="#2b2b2b">30</text><text x="34.0" y="542.5" font-size="14.7" text-anchor="end" font-weight="normal" fill="#2b2b2b">20</text><text x="34.0" y="633.2" font-size="14.7" text-anchor="end" font-weight="normal" fill="#2b2b2b">10</text><text x="29.3" y="724.2" font-size="14.7" text-anchor="end" font-weight="normal" fill="#2b2b2b">5</text><text x="14.0" y="276.7" font-size="17.0" text-anchor="middle" font-weight="bold" fill="#222">H</text><text x="14.3" y="294.5" font-size="14.5" text-anchor="middle" font-weight="normal" fill="#2b2b2b">m</text><text x="1002.2" y="95.1" font-size="14.7" text-anchor="start" font-weight="normal" fill="#2b2b2b">2000</text><text x="1002.2" y="185.8" font-size="14.7" text-anchor="start" font-weight="normal" fill="#2b2b2b">1000</text><text x="1002.2" y="276.5" font-size="14.7" text-anchor="start" font-weight="normal" fill="#2b2b2b">500</text><text x="1002.2" y="305.7" font-size="14.7" text-anchor="start" font-weight="normal" fill="#2b2b2b">400</text><text x="1002.2" y="343.4" font-size="14.7" text-anchor="start" font-weight="normal" fill="#2b2b2b">300</text><text x="1002.2" y="396.4" font-size="14.7" text-anchor="start" font-weight="normal" fill="#2b2b2b">200</text><text x="1002.2" y="487.1" font-size="14.7" text-anchor="start" font-weight="normal" fill="#2b2b2b">100</text><text x="1002.2" y="577.8" font-size="14.7" text-anchor="start" font-weight="normal" fill="#2b2b2b">50</text><text x="1002.2" y="607.0" font-size="14.7" text-anchor="start" font-weight="normal" fill="#2b2b2b">40</text><text x="1002.2" y="644.7" font-size="14.7" text-anchor="start" font-weight="normal" fill="#2b2b2b">30</text><text x="1002.2" y="697.7" font-size="14.7" text-anchor="start" font-weight="normal" fill="#2b2b2b">20</text><text x="1019.0" y="135.7" font-size="17.0" text-anchor="middle" font-weight="bold" fill="#222">H</text><text x="1021.0" y="154.2" font-size="14.5" text-anchor="middle" font-weight="normal" fill="#2b2b2b">ft</text><text x="124.7" y="28.6" font-size="14.7" text-anchor="middle" font-weight="normal" fill="#2b2b2b">30</text><text x="206.7" y="28.6" font-size="14.7" text-anchor="middle" font-weight="normal" fill="#2b2b2b">40</text><text x="269.7" y="28.6" font-size="14.7" text-anchor="middle" font-weight="normal" fill="#2b2b2b">50</text><text x="466.0" y="28.6" font-size="14.7" text-anchor="middle" font-weight="normal" fill="#2b2b2b">100</text><text x="663.5" y="28.6" font-size="14.7" text-anchor="middle" font-weight="normal" fill="#2b2b2b">200</text><text x="778.6" y="28.6" font-size="14.7" text-anchor="middle" font-weight="normal" fill="#2b2b2b">300</text><text x="861.0" y="28.6" font-size="14.7" text-anchor="middle" font-weight="normal" fill="#2b2b2b">400</text><text x="925.0" y="28.6" font-size="14.7" text-anchor="middle" font-weight="normal" fill="#2b2b2b">500</text><text x="317.3" y="28.4" font-size="14.7" text-anchor="start" font-weight="normal" fill="#2b2b2b">U.S. g.p.m.</text><text x="61.6" y="61.8" font-size="14.7" text-anchor="middle" font-weight="normal" fill="#2b2b2b">20</text><text x="177.4" y="61.8" font-size="14.7" text-anchor="middle" font-weight="normal" fill="#2b2b2b">30</text><text x="259.4" y="61.8" font-size="14.7" text-anchor="middle" font-weight="normal" fill="#2b2b2b">40</text><text x="322.3" y="61.8" font-size="14.7" text-anchor="middle" font-weight="normal" fill="#2b2b2b">50</text><text x="519.2" y="61.8" font-size="14.7" text-anchor="middle" font-weight="normal" fill="#2b2b2b">100</text><text x="715.7" y="61.8" font-size="14.7" text-anchor="middle" font-weight="normal" fill="#2b2b2b">200</text><text x="831.5" y="61.8" font-size="14.7" text-anchor="middle" font-weight="normal" fill="#2b2b2b">300</text><text x="913.7" y="61.8" font-size="14.7" text-anchor="middle" font-weight="normal" fill="#2b2b2b">400</text><text x="976.8" y="61.8" font-size="14.7" text-anchor="middle" font-weight="normal" fill="#2b2b2b">500</text><text x="364.7" y="61.8" font-size="14.7" text-anchor="start" font-weight="normal" fill="#2b2b2b">Imp. g.p.m.</text><text x="39.0" y="738.0" font-size="14.7" text-anchor="middle" font-weight="normal" fill="#2b2b2b">5</text><text x="234.8" y="738.0" font-size="14.7" text-anchor="middle" font-weight="normal" fill="#2b2b2b">10</text><text x="432.0" y="738.0" font-size="14.7" text-anchor="middle" font-weight="normal" fill="#2b2b2b">20</text><text x="547.5" y="738.0" font-size="14.7" text-anchor="middle" font-weight="normal" fill="#2b2b2b">30</text><text x="629.0" y="738.0" font-size="14.7" text-anchor="middle" font-weight="normal" fill="#2b2b2b">40</text><text x="692.8" y="738.0" font-size="14.7" text-anchor="middle" font-weight="normal" fill="#2b2b2b">50</text><text x="884.0" y="738.0" font-size="14.7" text-anchor="middle" font-weight="normal" fill="#2b2b2b">100</text><text x="975.4" y="738.0" font-size="14.7" text-anchor="middle" font-weight="normal" fill="#2b2b2b">150</text><text x="87.6" y="762.0" font-size="14.7" text-anchor="middle" font-weight="normal" fill="#2b2b2b">100</text><text x="202.2" y="762.0" font-size="14.7" text-anchor="middle" font-weight="normal" fill="#2b2b2b">150</text><text x="284.0" y="762.0" font-size="14.7" text-anchor="middle" font-weight="normal" fill="#2b2b2b">200</text><text x="399.5" y="762.0" font-size="14.7" text-anchor="middle" font-weight="normal" fill="#2b2b2b">300</text><text x="481.5" y="762.0" font-size="14.7" text-anchor="middle" font-weight="normal" fill="#2b2b2b">400</text><text x="545.0" y="762.0" font-size="14.7" text-anchor="middle" font-weight="normal" fill="#2b2b2b">500</text><text x="737.4" y="762.0" font-size="14.7" text-anchor="middle" font-weight="normal" fill="#2b2b2b">1000</text><text x="934.5" y="762.0" font-size="14.7" text-anchor="middle" font-weight="normal" fill="#2b2b2b">2000</text><text x="121.8" y="751.5" font-size="16.5" text-anchor="middle" font-weight="bold" fill="#222">Q</text><text x="138.7" y="738.7" font-size="14" fill="#2b2b2b">m<tspan font-size="8.5" dy="-5.5">3</tspan><tspan dy="5.5">/h</tspan></text><text x="138.7" y="759.6" font-size="14.7" text-anchor="start" font-weight="normal" fill="#2b2b2b">l/min</text><text x="984.6" y="784.3" font-size="7.8" text-anchor="end" font-weight="normal" fill="#333" letter-spacing="0.15">72.1161_10</text><text x="372.1" y="309.4" font-size="17.5" text-anchor="middle" font-weight="bold" fill="#1c1f21">6SDX(L) 18</text><text x="586.2" y="311.4" font-size="17.5" text-anchor="middle" font-weight="bold" fill="#1c1f21">6SDX(L) 30</text><text x="708.6" y="363.1" font-size="17.5" text-anchor="middle" font-weight="bold" fill="#1c1f21">6SDX(L)</text><text x="708.3" y="384.9" font-size="17.5" text-anchor="middle" font-weight="bold" fill="#1c1f21">46</text><text x="788.9" y="380.9" font-size="17.5" text-anchor="middle" font-weight="bold" fill="#1c1f21">6SDX(L)</text><text x="788.5" y="402.5" font-size="17.5" text-anchor="middle" font-weight="bold" fill="#1c1f21">65</text><text x="862.4" y="316.1" font-size="17.5" text-anchor="middle" font-weight="bold" fill="#1c1f21">8SDX</text><text x="862.4" y="338.0" font-size="17.5" text-anchor="middle" font-weight="bold" fill="#1c1f21">(L)</text><text x="862.6" y="359.8" font-size="17.5" text-anchor="middle" font-weight="bold" fill="#1c1f21">78</text><text x="919.4" y="348.7" font-size="17.5" text-anchor="middle" font-weight="bold" fill="#1c1f21">8SDX</text><text x="920.0" y="370.2" font-size="17.5" text-anchor="middle" font-weight="bold" fill="#1c1f21">(L)</text><text x="919.7" y="392.4" font-size="17.5" text-anchor="middle" font-weight="bold" fill="#1c1f21">97</text></g></svg></body></html>
